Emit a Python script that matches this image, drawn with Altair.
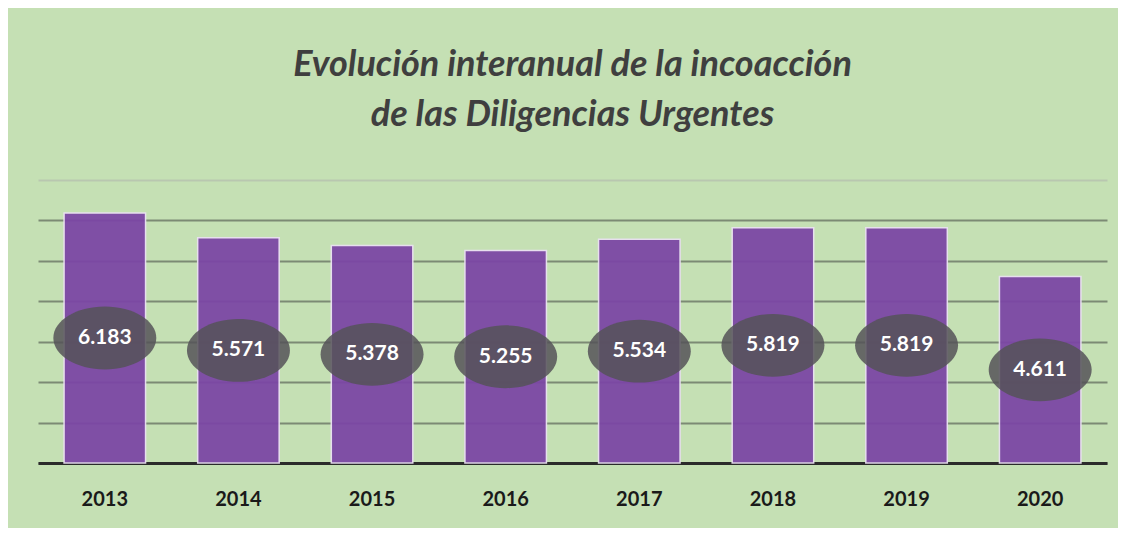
import altair as alt
import pandas as pd

years = ["2013", "2014", "2015", "2016", "2017", "2018", "2019", "2020"]
values = [6183, 5571, 5378, 5255, 5534, 5819, 5819, 4611]
labels = ["6.183", "5.571", "5.378", "5.255", "5.534", "5.819", "5.819", "4.611"]
grid_values = [0, 1000, 2000, 3000, 4000, 5000, 6000, 7000]

df = pd.DataFrame({"year": years, "value": values, "label": labels})

ellipse = "M -1 0 A 1 0.61 0 1 1 1 0 A 1 0.61 0 1 1 -1 0 Z"

x_enc = alt.X(
    "year:N",
    sort=years,
    scale=alt.Scale(paddingInner=0.39, paddingOuter=0.195),
    axis=alt.Axis(
        title=None, labelAngle=0, labelFont="Lato", labelFontSize=20,
        labelFontWeight="bold", labelColor="#1a1a1a", labelPadding=26,
        ticks=False, domainColor="#2b2b2b", domainWidth=3,
    ),
)
y_enc = alt.Y(
    "value:Q",
    scale=alt.Scale(domain=[0, 7000], nice=False),
    axis=alt.Axis(
        title=None, labels=False, ticks=False, domain=False,
        values=grid_values, gridWidth=2,
        gridColor={"condition": {"test": "datum.value == 7000", "value": "#b9c7b0"},
                   "value": "#7c8a74"},
    ),
)

base = alt.Chart(df).encode(x=x_enc)

bars = base.mark_bar(color="#7b46a5", opacity=0.94, stroke="#eadff2", strokeWidth=1.5).encode(y=y_enc)

ell = base.transform_calculate(mid="datum.value / 2").mark_point(
    shape=ellipse, size=10600, filled=True, color="#555258", opacity=0.85, strokeWidth=0
).encode(y=alt.Y("mid:Q"))

txt = base.transform_calculate(mid="datum.value / 2").mark_text(
    font="Lato", fontSize=21, fontWeight="bold", color="white"
).encode(y=alt.Y("mid:Q"), text="label:N")

chart = alt.layer(bars, ell, txt).properties(
    width=1069,
    height=283,
    background="#c5e0b4",
    padding={"left": 30, "right": 11, "top": 39, "bottom": 19},
    title=alt.TitleParams(
        text=["Evolución interanual de la incoacción", "de las Diligencias Urgentes"],
        font="Lato", fontSize=36, fontStyle="italic", fontWeight="bold",
        color="#3f3f3f", lineHeight=50, anchor="middle", offset=46,
    ),
).configure_view(stroke=None)

chart.save("out.html", embed_options={"renderer": "svg", "actions": False})
